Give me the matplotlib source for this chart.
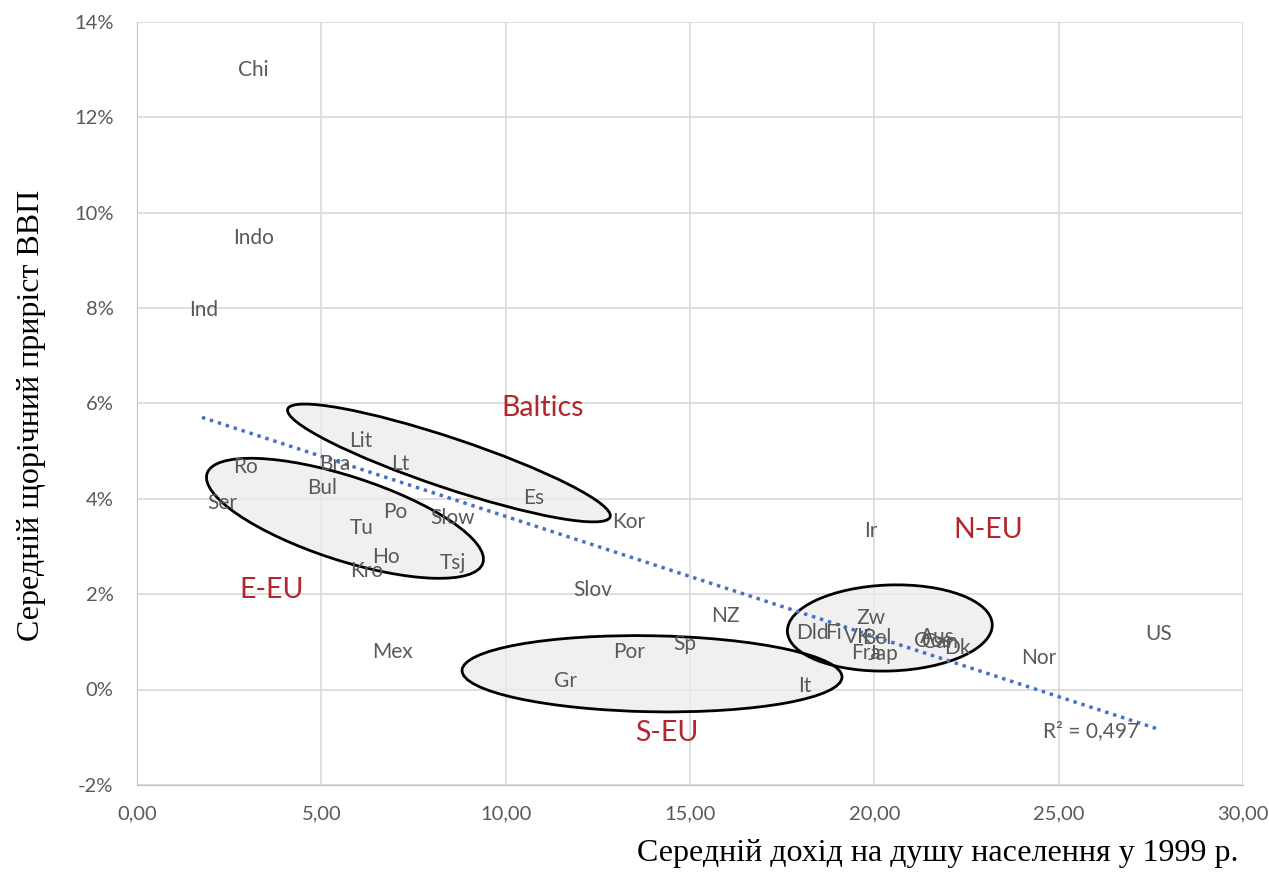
import matplotlib.pyplot as plt
from matplotlib.patches import Ellipse
from matplotlib.transforms import ScaledTranslation
from matplotlib.ticker import FuncFormatter, MultipleLocator
import numpy as np

# country labels: income per head 1999 (x) and avg GDP growth in % (y)
countries = ["Chi", "Indo", "Ind", "Lit", "Bra", "Lt", "Ro", "Bul", "Es", "Ser",
             "Po", "Slow", "Kor", "Tu", "Ir", "Ho", "Tsj", "Kro", "Slov", "NZ",
             "Zw", "Dld", "Fi", "VK", "Bel", "Fra", "Jap", "Aus", "Oos", "Can",
             "Dk", "Sp", "Mex", "Por", "Nor", "US", "Gr", "It"]
income = [3.15, 3.15, 1.82, 6.08, 5.37, 7.13, 2.93, 5.02, 10.77, 2.31,
          7.00, 8.57, 13.34, 6.08, 19.91, 6.75, 8.57, 6.24, 12.37, 15.97,
          19.91, 18.31, 18.90, 19.56, 20.07, 19.77, 20.23, 21.72, 21.59, 21.78,
          22.24, 14.86, 6.92, 13.34, 24.46, 27.72, 11.61, 18.12]
growth = [13.0, 9.47, 7.96, 5.22, 4.72, 4.72, 4.66, 4.23, 4.02, 3.91,
          3.72, 3.59, 3.51, 3.38, 3.32, 2.78, 2.66, 2.49, 2.08, 1.54,
          1.50, 1.19, 1.19, 1.10, 1.08, 0.77, 0.75, 1.10, 1.02, 1.00,
          0.87, 0.96, 0.79, 0.79, 0.66, 1.17, 0.18, 0.08]

# groups
groups = ["Baltics", "E-EU", "S-EU", "N-EU"]
group_x = [11.01, 3.66, 14.37, 23.08]
group_y = [5.90, 2.09, -0.91, 3.35]

# linear trend (Excel)
trend_slope = -0.252
trend_intercept = 6.15
trend_x = [1.76, 27.69]
r2_text = "R² = 0,497"

# ellipses: centre (data), width/height in px, angle
shapes = [
    ((8.46, 4.75), 340, 50, -18.5),
    ((5.64, 3.59), 290, 84, -18),
    ((13.97, 0.33), 380, 76, -1),
    ((20.42, 1.29), 205, 86, 2),
]

gray = "#595959"
red = "#b3262e"

fig = plt.figure(figsize=(12.69, 8.75), dpi=100)
ax = fig.add_axes([0.108, 0.103, 0.8715, 0.872])
ax.set_xlim(0, 30)
ax.set_ylim(-2, 14)
ax.xaxis.set_major_locator(MultipleLocator(5))
ax.yaxis.set_major_locator(MultipleLocator(2))
ax.xaxis.set_major_formatter(FuncFormatter(lambda v, p: f"{v:.2f}".replace(".", ",")))
ax.yaxis.set_major_formatter(FuncFormatter(lambda v, p: f"{v:.0f}%"))
ax.grid(True, color="#d9d9d9", linewidth=1.2)
ax.set_axisbelow(True)
for s in ax.spines.values():
    s.set_visible(False)
ax.spines["left"].set_visible(True)
ax.spines["left"].set_color("#bfbfbf")
ax.spines["bottom"].set_visible(True)
ax.spines["bottom"].set_color("#bfbfbf")
ax.tick_params(length=0, labelsize=14.5, labelcolor=gray)
ax.tick_params(axis="x", pad=15)
ax.tick_params(axis="y", pad=17)
for lab in ax.get_xticklabels() + ax.get_yticklabels():
    lab.set_family("Lato")

for (cx, cy), w, h, ang in shapes:
    tr = fig.dpi_scale_trans + ScaledTranslation(cx, cy, ax.transData)
    e = Ellipse((0, 0), w / 100, h / 100, angle=ang, transform=tr,
                facecolor="#ececec", alpha=0.75, edgecolor="none", zorder=2)
    ax.add_patch(e)
    e2 = Ellipse((0, 0), w / 100, h / 100, angle=ang, transform=tr,
                 facecolor="none", edgecolor="black", linewidth=2, zorder=3)
    ax.add_patch(e2)

tx = np.array(trend_x)
ax.plot(tx, trend_slope * tx + trend_intercept, color="#4472c4",
        linewidth=2.5, linestyle=(0, (1, 1.4)), zorder=4)

for name, x, y in zip(countries, income, growth):
    ax.text(x, y, name, ha="center", va="center", fontsize=15,
            color=gray, family="Lato", zorder=5)

for name, x, y in zip(groups, group_x, group_y):
    ax.text(x, y, name, ha="center", va="center", fontsize=20.5,
            color=red, family="Lato", zorder=5)

ax.text(25.87, -0.87, r2_text, ha="center", va="center", fontsize=15,
        color=gray, family="Lato", zorder=5)

fig.text(0.976, 0.008, "Середній дохід на душу населення у 1999 р.",
         ha="right", va="bottom", fontsize=23, family="Liberation Serif")
fig.text(0.025, 0.525, "Середній щорічний приріст ВВП", rotation=90,
         ha="center", va="center", fontsize=23, family="Liberation Serif")

fig.savefig("out.png", dpi=100)
